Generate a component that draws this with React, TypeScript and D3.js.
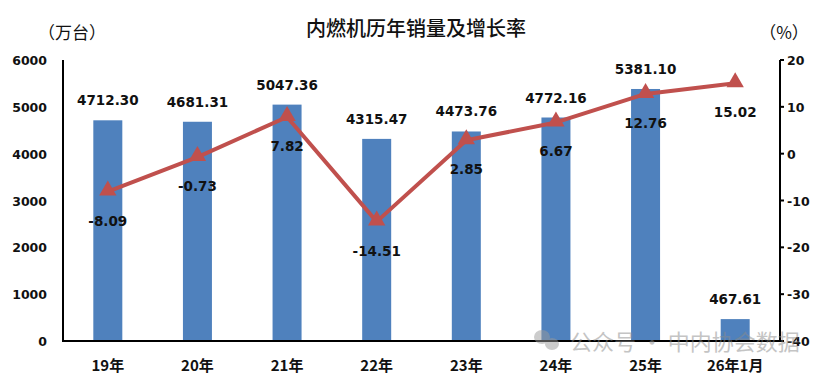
import React from "react";
import * as d3 from "d3";

const categories = ["19年", "20年", "21年", "22年", "23年", "24年", "25年", "26年1月"];
const sales = [4712.30, 4681.31, 5047.36, 4315.47, 4473.76, 4772.16, 5381.10, 467.61];
const growth = [-8.09, -0.73, 7.82, -14.51, 2.85, 6.67, 12.76, 15.02];
const leftTicks = [0, 1000, 2000, 3000, 4000, 5000, 6000];
const rightTicks = [-40, -30, -20, -10, 0, 10, 20];

const W = 831, H = 377;
const L = 63, R = 780, T = 60, B = 341;
const numFont = "'DejaVu Sans', 'Liberation Sans', sans-serif";
const cjk = "'Noto Sans CJK SC', sans-serif";

export default function App() {
  const x = d3.scaleBand<string>().domain(categories).range([L, R]).paddingInner(0).paddingOuter(0);
  const yL = d3.scaleLinear().domain([0, 6000]).range([B, T]);
  const yR = d3.scaleLinear().domain([-40, 20]).range([B, T]);
  const bw = 29;
  const cx = (c: string) => (x(c) as number) + x.bandwidth() / 2;
  const line = d3.line<number>().x((_, i) => cx(categories[i])).y((d) => yR(d));
  const tri = d3.symbol().type(d3.symbolTriangle).size(130)();

  return (
    <svg width={W} height={H} style={{ position: "absolute", left: 0, top: 0, background: "#fff" }}>
      <rect width={W} height={H} fill="#fff" />
      <text x={416} y={36} textAnchor="middle" fontFamily={cjk} fontWeight={500} fontSize={20} fill="#111">内燃机历年销量及增长率</text>
      <text x={72} y={39} textAnchor="middle" fontFamily={cjk} fontSize={17} fill="#111">（万台）</text>
      <text x={784} y={39} textAnchor="middle" fontFamily={cjk} fontSize={17} fill="#111">（%）</text>

      {sales.map((v, i) => (
        <rect key={i} x={cx(categories[i]) - bw / 2} y={yL(v)} width={bw} height={B - yL(v)} fill="#4F81BD" />
      ))}
      {sales.map((v, i) => (
        <text key={"sl" + i} x={cx(categories[i])} y={yL(v) - 15} textAnchor="middle" fontFamily={numFont} fontWeight="bold" fontSize={13.5} fill="#111">{v.toFixed(2)}</text>
      ))}

      <path d={line(growth) as string} fill="none" stroke="#C0504D" strokeWidth={4} strokeLinejoin="round" />
      {growth.map((v, i) => (
        <path key={"m" + i} d={tri as string} transform={`translate(${cx(categories[i])},${yR(v) - 1})`} fill="#C0504D" />
      ))}
      {growth.map((v, i) => (
        <text key={"gl" + i} x={cx(categories[i])} y={yR(v) + 34} textAnchor="middle" fontFamily={numFont} fontWeight="bold" fontSize={13.5} fill="#111">{v.toFixed(2)}</text>
      ))}

      {/* axes */}
      <line x1={L} y1={T} x2={L} y2={B} stroke="#000" strokeWidth={2} />
      <line x1={R} y1={T} x2={R} y2={B} stroke="#000" strokeWidth={2} />
      <line x1={L - 1} y1={B} x2={R + 1} y2={B} stroke="#000" strokeWidth={2} />
      {rightTicks.map((t) => (
        <line key={"rt" + t} x1={R} x2={R + 4} y1={yR(t)} y2={yR(t)} stroke="#000" strokeWidth={2} />
      ))}
      {leftTicks.map((t) => (
        <text key={"lt" + t} x={47} y={yL(t) + 5} textAnchor="end" fontFamily={numFont} fontWeight="bold" fontSize={12.5} fill="#111">{t}</text>
      ))}
      {rightTicks.map((t) => (
        <text key={"rtl" + t} x={787} y={yR(t) + 5} textAnchor="start" fontFamily={numFont} fontWeight="bold" fontSize={12.5} fill="#111">{t}</text>
      ))}
      {categories.map((c) => (
        <text key={"c" + c} x={cx(c)} y={371} textAnchor="middle" fontFamily={cjk} fontWeight="bold" fontSize={15} fill="#111">{c}</text>
      ))}

      {/* watermark */}
      <g opacity={0.5}>
        <ellipse cx={542} cy={337} rx={8} ry={7} fill="#9a9a9a" />
        <ellipse cx={552} cy={344} rx={7} ry={6} fill="#9a9a9a" />
        <text x={570} y={350} fontFamily={cjk} fontSize={22} fill="#8a8a8a">公众号 · 中内协会数据</text>
      </g>
    </svg>
  );
}
